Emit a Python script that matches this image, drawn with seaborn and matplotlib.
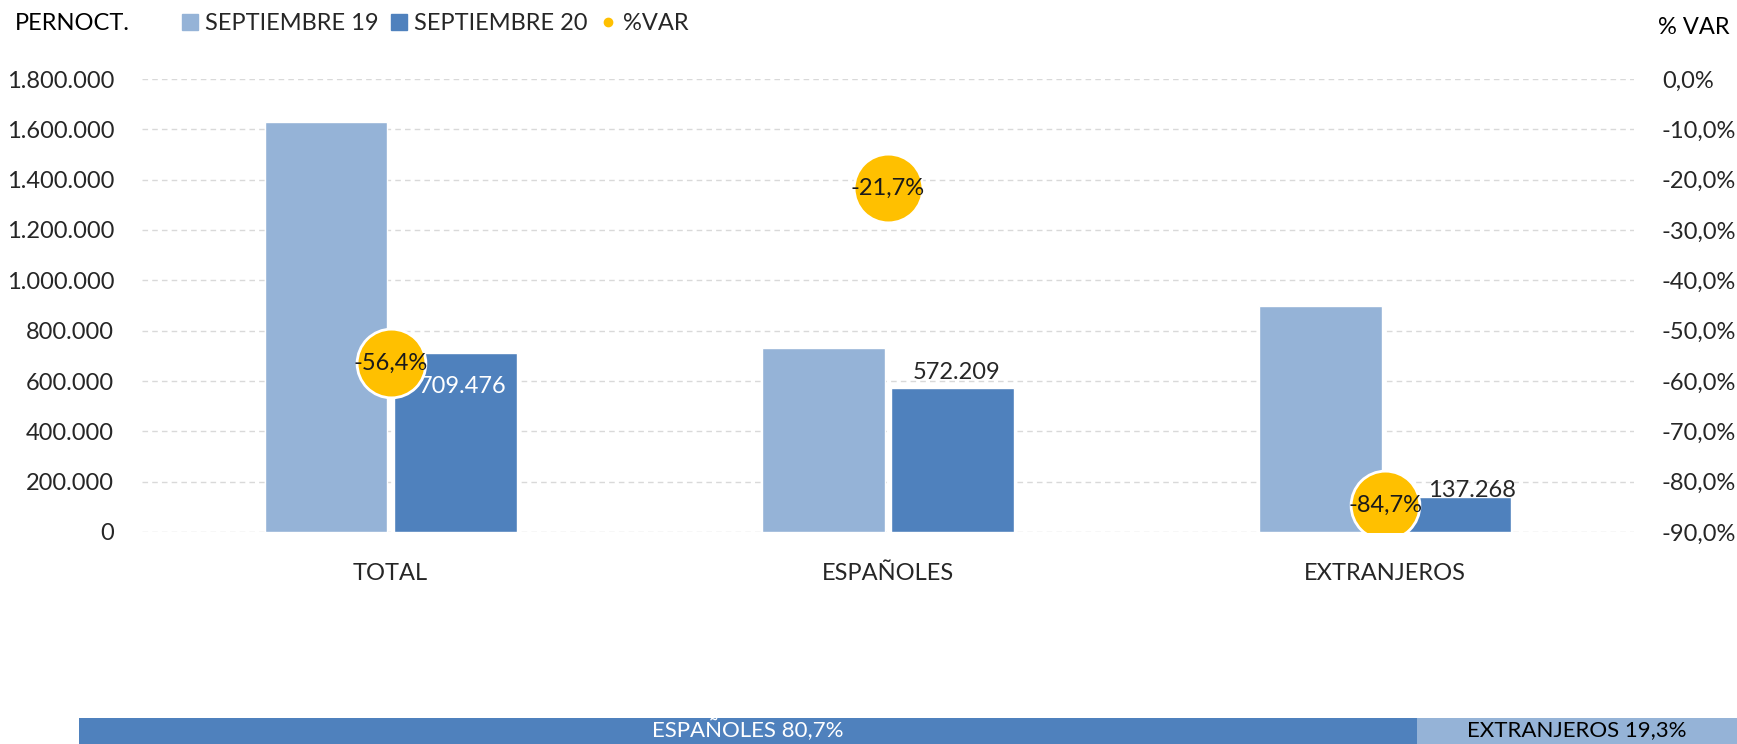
import matplotlib
matplotlib.use("Agg")
import numpy as np
import pandas as pd
import matplotlib.pyplot as plt
from matplotlib.lines import Line2D
from matplotlib.ticker import FuncFormatter
import seaborn as sns

categories = ["TOTAL", "ESPAÑOLES", "EXTRANJEROS"]
sep19 = [1627238, 730791, 896447]
sep20 = [709476, 572209, 137268]
pct_var = [-56.4, -21.7, -84.7]
share_labels = ["ESPAÑOLES", "EXTRANJEROS"]
share_values = [80.7, 19.3]

LIGHT = "#95B3D7"
DARK = "#4F81BD"
YELLOW = "#FFC000"
FS = 17

sns.set_theme(style="white")
plt.rcParams["font.family"] = ["Lato", "DejaVu Sans"]

df = pd.DataFrame({
    "cat": categories * 2,
    "serie": ["SEPTIEMBRE 19"] * 3 + ["SEPTIEMBRE 20"] * 3,
    "val": sep19 + sep20,
})

fig = plt.figure(figsize=(17.37, 7.44), dpi=100)
ax = fig.add_axes([142 / 1737, 212 / 744, 1492 / 1737, 453 / 744])

sns.barplot(data=df, x="cat", y="val", hue="serie", palette=[LIGHT, DARK],
            width=0.52, gap=0.05, ax=ax, legend=False, saturation=1)
ax.set_xlim(-0.5, 2.5)
ax.set_ylim(0, 1800000)
ax.set_yticks(np.arange(0, 1800001, 200000))
ax.yaxis.set_major_formatter(FuncFormatter(lambda v, p: f"{int(v):,}".replace(",", ".")))
ax.grid(axis="y", color="#D9D9D9", linestyle=(0, (4, 3)), linewidth=1)
ax.set_axisbelow(True)
for s in ax.spines.values():
    s.set_visible(False)
ax.tick_params(axis="both", length=0, labelsize=FS, colors="#262626")
ax.tick_params(axis="y", pad=20)
ax.tick_params(axis="x", pad=22)
ax.set_xlabel("")
ax.set_ylabel("")

# data labels on SEPTIEMBRE 20 bars (first one inside, white)
label_offsets = [(5, -24), (3, 11), (16, 5)]
bars20 = ax.containers[1]
for i, rect in enumerate(bars20):
    x = rect.get_x() + rect.get_width() / 2
    h = rect.get_height()
    lab = f"{sep20[i]:,}".replace(",", ".")
    ax.annotate(lab, (x, h), xytext=label_offsets[i], textcoords="offset points",
                ha="center", va="center", color="white" if i == 0 else "#262626",
                fontsize=FS)

# %VAR on right axis
ax2 = ax.twinx()
sns.scatterplot(x=np.arange(len(categories)), y=pct_var, ax=ax2, s=2450,
                color=YELLOW, edgecolor="white", linewidth=2, zorder=5)
ax2.set_ylim(-90, 0)
ax2.set_yticks(np.arange(-90, 1, 10))
ax2.yaxis.set_major_formatter(FuncFormatter(lambda v, p: f"{v:.1f}%".replace(".", ",")))
for s in ax2.spines.values():
    s.set_visible(False)
ax2.tick_params(axis="y", length=0, labelsize=FS, colors="#262626", pad=20)
for i, v in enumerate(pct_var):
    ax2.text(i, v, f"{v:.1f}%".replace(".", ","), ha="center", va="center",
             fontsize=FS, color="#1a1a1a", zorder=6)

# titles and legend
fig.text(15 / 1737, 1 - 24 / 744, "PERNOCT.", fontsize=FS, va="center", ha="left", color="black")
fig.text(1730 / 1737, 1 - 28 / 744, "% VAR", fontsize=FS, va="center", ha="right", color="black")
handles = [
    Line2D([], [], marker="s", linestyle="none", color=LIGHT, markersize=11),
    Line2D([], [], marker="s", linestyle="none", color=DARK, markersize=11),
    Line2D([], [], marker="o", linestyle="none", color=YELLOW, markersize=6),
]
fig.legend(handles, ["SEPTIEMBRE 19", "SEPTIEMBRE 20", "%VAR"], ncol=3, frameon=False,
           loc="center left", bbox_to_anchor=(172 / 1737, 1 - 24 / 744), fontsize=FS,
           handlelength=0.7, handletextpad=0.3, columnspacing=0.5, borderaxespad=0)

# bottom share bar
ax3 = fig.add_axes([79 / 1737, 0, 1658 / 1737, 26 / 744])
left = 0
cols = [DARK, LIGHT]
tcols = ["white", "black"]
for lab, v, c, tc in zip(share_labels, share_values, cols, tcols):
    ax3.barh([0], [v], left=left, color=c, height=1, edgecolor="none")
    ax3.text(left + v / 2, 0.02, f"{lab} {v:.1f}%".replace(".", ","), ha="center",
             va="center", color=tc, fontsize=16)
    left += v
ax3.set_xlim(0, 100)
ax3.set_ylim(-0.5, 0.5)
ax3.axis("off")

fig.savefig("out.png", dpi=100)
